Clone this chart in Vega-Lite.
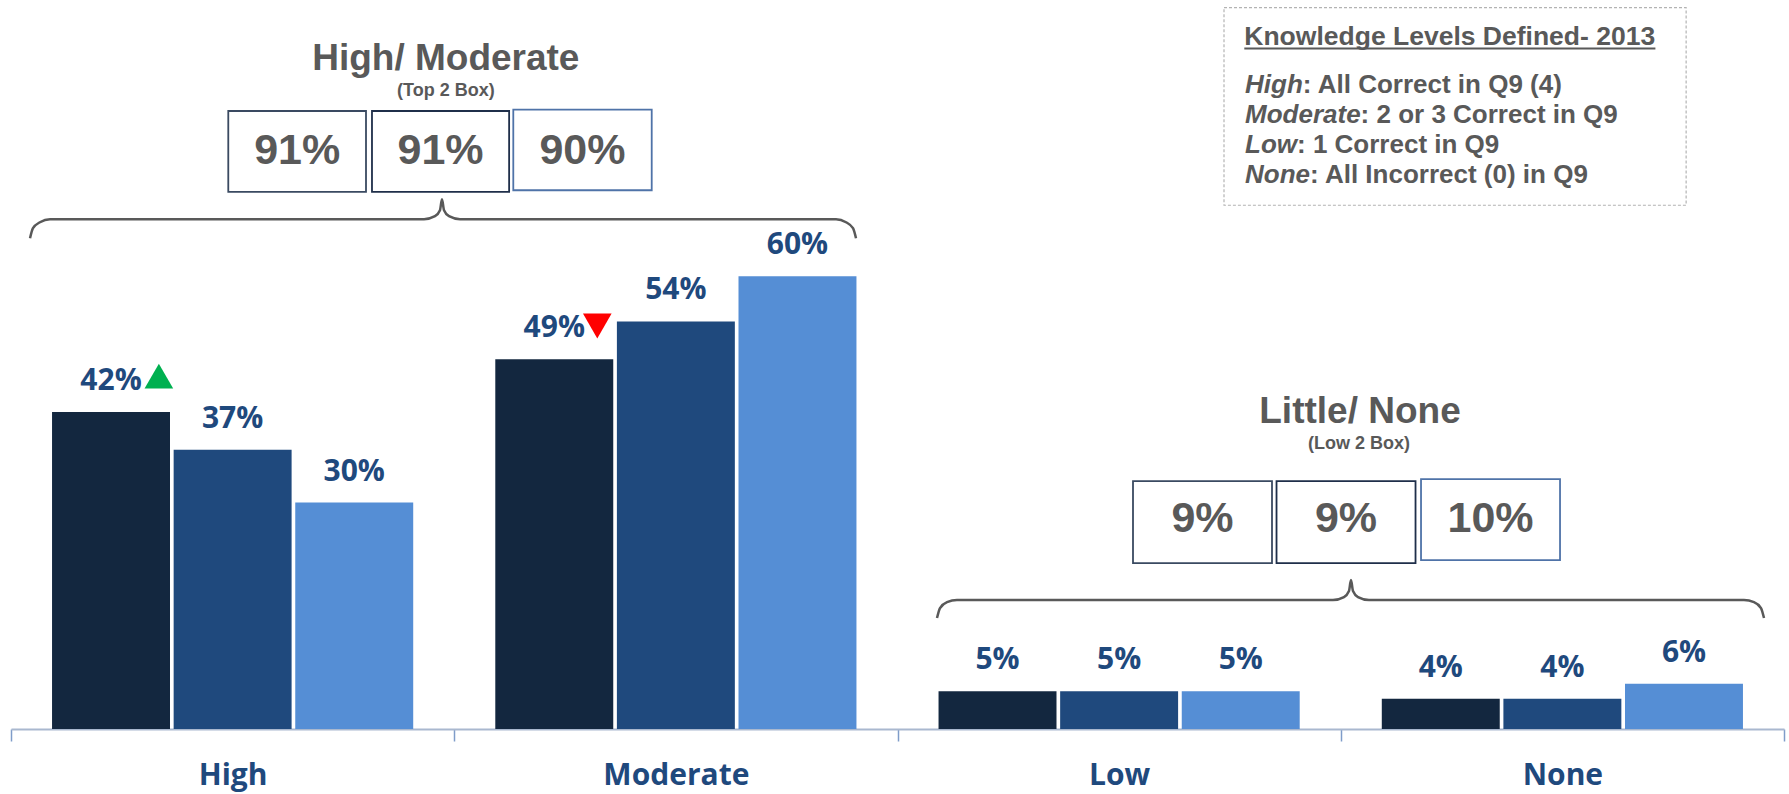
{
  "$schema": "https://vega.github.io/schema/vega-lite/v6.json",
  "width": 1773,
  "height": 729,
  "autosize": "none",
  "padding": {"left": 11, "top": 0, "right": 5, "bottom": 65},
  "background": "white",
  "config": {"view": {"stroke": null}},
  "datasets": {
    "bars": [
      {"level": "High", "series": "2013", "pct": 0.42},
      {"level": "High", "series": "2012", "pct": 0.37},
      {"level": "High", "series": "2011", "pct": 0.30},
      {"level": "Moderate", "series": "2013", "pct": 0.49},
      {"level": "Moderate", "series": "2012", "pct": 0.54},
      {"level": "Moderate", "series": "2011", "pct": 0.60},
      {"level": "Low", "series": "2013", "pct": 0.05},
      {"level": "Low", "series": "2012", "pct": 0.05},
      {"level": "Low", "series": "2011", "pct": 0.05},
      {"level": "None", "series": "2013", "pct": 0.04},
      {"level": "None", "series": "2012", "pct": 0.04},
      {"level": "None", "series": "2011", "pct": 0.06}
    ],
    "boxes": [
      {"group": "High/ Moderate", "series": "2013", "u1": 0.4902, "u2": 0.8009, "uc": 0.6457, "v1": 0.8189, "v2": 0.7117, "vt": 0.7483, "pct": 0.91},
      {"group": "High/ Moderate", "series": "2012", "u1": 0.8144, "u2": 1.1238, "uc": 0.969, "v1": 0.8189, "v2": 0.7117, "vt": 0.7483, "pct": 0.91},
      {"group": "High/ Moderate", "series": "2011", "u1": 1.1332, "u2": 1.4455, "uc": 1.2893, "v1": 0.8208, "v2": 0.7139, "vt": 0.7483, "pct": 0.90},
      {"group": "Little/ None", "series": "2013", "u1": 2.5313, "u2": 2.8449, "uc": 2.6881, "v1": 0.3285, "v2": 0.2199, "vt": 0.2613, "pct": 0.09},
      {"group": "Little/ None", "series": "2012", "u1": 2.8551, "u2": 3.1687, "uc": 3.0118, "v1": 0.3285, "v2": 0.2199, "vt": 0.2613, "pct": 0.09},
      {"group": "Little/ None", "series": "2011", "u1": 3.1811, "u2": 3.4947, "uc": 3.3379, "v1": 0.3311, "v2": 0.2238, "vt": 0.2613, "pct": 0.10}
    ],
    "groups": [
      {"group": "High/ Moderate", "sub": "(Top 2 Box)", "u": 0.981, "v": 0.8728, "us": 0.981, "vs": 0.8391},
      {"group": "Little/ None", "sub": "(Low 2 Box)", "u": 3.0434, "v": 0.4053, "us": 3.0412, "vs": 0.3709}
    ],
    "braces": [
      {"brace": "top", "u": 0.0429, "v": 0.6503},
      {"brace": "top", "u": 0.0496, "v": 0.6636},
      {"brace": "top", "u": 0.0654, "v": 0.6715},
      {"brace": "top", "u": 0.088, "v": 0.6755},
      {"brace": "top", "u": 0.9318, "v": 0.6755},
      {"brace": "top", "u": 0.9566, "v": 0.6795},
      {"brace": "top", "u": 0.9678, "v": 0.6874},
      {"brace": "top", "u": 0.9723, "v": 0.702},
      {"brace": "top", "u": 0.9769, "v": 0.6874},
      {"brace": "top", "u": 0.9881, "v": 0.6795},
      {"brace": "top", "u": 1.013, "v": 0.6755},
      {"brace": "top", "u": 1.8613, "v": 0.6755},
      {"brace": "top", "u": 1.8838, "v": 0.6715},
      {"brace": "top", "u": 1.8996, "v": 0.6636},
      {"brace": "top", "u": 1.9064, "v": 0.6503},
      {"brace": "low", "u": 2.0891, "v": 0.147},
      {"brace": "low", "u": 2.0959, "v": 0.1603},
      {"brace": "low", "u": 2.1117, "v": 0.1682},
      {"brace": "low", "u": 2.1342, "v": 0.1709},
      {"brace": "low", "u": 2.9825, "v": 0.1709},
      {"brace": "low", "u": 3.0073, "v": 0.1748},
      {"brace": "low", "u": 3.0186, "v": 0.1828},
      {"brace": "low", "u": 3.0231, "v": 0.1974},
      {"brace": "low", "u": 3.0276, "v": 0.1828},
      {"brace": "low", "u": 3.0389, "v": 0.1748},
      {"brace": "low", "u": 3.0637, "v": 0.1709},
      {"brace": "low", "u": 3.9097, "v": 0.1709},
      {"brace": "low", "u": 3.9323, "v": 0.1682},
      {"brace": "low", "u": 3.9481, "v": 0.1603},
      {"brace": "low", "u": 3.9549, "v": 0.147}
    ],
    "flags": [
      {"level": "High", "series": "2013", "dir": "up", "u": 0.3336, "v": 0.4675},
      {"level": "Moderate", "series": "2013", "dir": "down", "u": 1.3227, "v": 0.534}
    ],
    "defs": [
      {"term": "High", "rest": ": All Correct in Q9 (4)", "u": 2.784, "ur": 2.9144, "v": 0.8424},
      {"term": "Moderate", "rest": ": 2 or 3 Correct in Q9", "u": 2.784, "ur": 3.0448, "v": 0.8026},
      {"term": "Low", "rest": ": 1 Correct in Q9", "u": 2.784, "ur": 2.9013, "v": 0.7629},
      {"term": "None", "rest": ": All Incorrect (0) in Q9", "u": 2.784, "ur": 2.9306, "v": 0.7232}
    ],
    "defsHead": [
      {"title": "Knowledge Levels Defined- 2013", "u": 2.7824, "ue": 3.7099, "v": 0.9069, "vl": 0.9016, "bu1": 2.7366, "bu2": 3.7792, "bv1": 0.9559, "bv2": 0.694}
    ]
  },
  "resolve": {"scale": {"x": "independent"}},
  "layer": [
    {
      "data": {"name": "bars"},
      "encoding": {
        "x": {
          "field": "level", "type": "nominal", "sort": ["High", "Moderate", "Low", "None"],
          "scale": {"paddingInner": 0, "paddingOuter": 0},
          "axis": {
            "title": null, "labelAngle": 0, "grid": false,
            "domain": true, "domainColor": "#a9b8cf", "domainWidth": 2,
            "ticks": true, "tickBand": "extent", "tickColor": "#7f9cc9", "tickSize": 12, "tickWidth": 1.5,
            "labelFont": "Open Sans", "labelFontSize": 30, "labelFontWeight": "bold", "labelColor": "#1f497d",
            "labelPadding": 43, "labelBaseline": "alphabetic"
          }
        },
        "xOffset": {"field": "series", "type": "nominal", "sort": ["2013", "2012", "2011"], "scale": {"paddingInner": 0.03, "paddingOuter": 0.3375}},
        "y": {"field": "pct", "type": "quantitative", "scale": {"domain": [0, 0.966], "nice": false}, "axis": null}
      },
      "layer": [
        {
          "mark": {"type": "bar"},
          "encoding": {
            "color": {"field": "series", "type": "nominal", "scale": {"domain": ["2013", "2012", "2011"], "range": ["#13273f", "#1f497d", "#558ed5"]}, "legend": null}
          }
        },
        {
          "mark": {"type": "text", "font": "Open Sans", "fontWeight": "bold", "fontSize": 30, "color": "#1f497d", "baseline": "alphabetic", "dy": -22},
          "encoding": {"text": {"field": "pct", "type": "quantitative", "format": ".0%"}}
        }
      ]
    },
    {
      "layer": [
        {
          "data": {"name": "braces"},
          "mark": {"type": "line", "interpolate": "monotone", "color": "#595959", "strokeWidth": 2.5},
          "encoding": {
            "x": {"field": "u", "type": "quantitative", "scale": {"domain": [0, 4], "nice": false, "zero": false}, "axis": null},
            "y": {"field": "v", "type": "quantitative", "scale": {"domain": [0, 0.966], "nice": false}, "axis": null},
            "detail": {"field": "brace", "type": "nominal"}
          }
        },
        {
          "data": {"name": "boxes"},
          "mark": {"type": "rect", "fill": "white", "strokeWidth": 1.8},
          "encoding": {
            "x": {"field": "u1", "type": "quantitative", "scale": {"domain": [0, 4], "nice": false, "zero": false}, "axis": null},
            "x2": {"field": "u2"},
            "y": {"field": "v1", "type": "quantitative", "scale": {"domain": [0, 0.966], "nice": false}, "axis": null},
            "y2": {"field": "v2"},
            "stroke": {"field": "series", "type": "nominal", "scale": {"domain": ["2013", "2012", "2011"], "range": ["#3a4a61", "#1f2f4a", "#4f73a8"]}, "legend": null}
          }
        },
        {
          "data": {"name": "boxes"},
          "mark": {"type": "text", "font": "Liberation Sans", "fontWeight": "bold", "fontSize": 43, "color": "#595959", "baseline": "alphabetic", "align": "center"},
          "encoding": {
            "x": {"field": "uc", "type": "quantitative", "scale": {"domain": [0, 4], "nice": false, "zero": false}, "axis": null},
            "y": {"field": "vt", "type": "quantitative", "scale": {"domain": [0, 0.966], "nice": false}, "axis": null},
            "text": {"field": "pct", "type": "quantitative", "format": ".0%"}
          }
        },
        {
          "data": {"name": "groups"},
          "mark": {"type": "text", "font": "Liberation Sans", "fontWeight": "bold", "fontSize": 37, "color": "#595959", "baseline": "alphabetic", "align": "center"},
          "encoding": {
            "x": {"field": "u", "type": "quantitative", "scale": {"domain": [0, 4], "nice": false, "zero": false}, "axis": null},
            "y": {"field": "v", "type": "quantitative", "scale": {"domain": [0, 0.966], "nice": false}, "axis": null},
            "text": {"field": "group", "type": "nominal"}
          }
        },
        {
          "data": {"name": "groups"},
          "mark": {"type": "text", "font": "Liberation Sans", "fontWeight": "bold", "fontSize": 18, "color": "#595959", "baseline": "alphabetic", "align": "center"},
          "encoding": {
            "x": {"field": "us", "type": "quantitative", "scale": {"domain": [0, 4], "nice": false, "zero": false}, "axis": null},
            "y": {"field": "vs", "type": "quantitative", "scale": {"domain": [0, 0.966], "nice": false}, "axis": null},
            "text": {"field": "sub", "type": "nominal"}
          }
        },
        {
          "data": {"name": "flags"},
          "transform": [{"filter": "datum.dir == 'up'"}],
          "mark": {"type": "point", "shape": "triangle-up", "filled": true, "color": "#00b050", "opacity": 1, "size": 820},
          "encoding": {
            "x": {"field": "u", "type": "quantitative", "scale": {"domain": [0, 4], "nice": false, "zero": false}, "axis": null},
            "y": {"field": "v", "type": "quantitative", "scale": {"domain": [0, 0.966], "nice": false}, "axis": null}
          }
        },
        {
          "data": {"name": "flags"},
          "transform": [{"filter": "datum.dir == 'down'"}],
          "mark": {"type": "point", "shape": "triangle-down", "filled": true, "color": "#ff0000", "opacity": 1, "size": 820},
          "encoding": {
            "x": {"field": "u", "type": "quantitative", "scale": {"domain": [0, 4], "nice": false, "zero": false}, "axis": null},
            "y": {"field": "v", "type": "quantitative", "scale": {"domain": [0, 0.966], "nice": false}, "axis": null}
          }
        },
        {
          "data": {"name": "defsHead"},
          "mark": {"type": "rect", "fillOpacity": 0, "stroke": "#b3b3b3", "strokeWidth": 1.2, "strokeDash": [3, 2]},
          "encoding": {
            "x": {"field": "bu1", "type": "quantitative", "scale": {"domain": [0, 4], "nice": false, "zero": false}, "axis": null},
            "x2": {"field": "bu2"},
            "y": {"field": "bv1", "type": "quantitative", "scale": {"domain": [0, 0.966], "nice": false}, "axis": null},
            "y2": {"field": "bv2"}
          }
        },
        {
          "data": {"name": "defsHead"},
          "mark": {"type": "text", "font": "Liberation Sans", "fontWeight": "bold", "fontSize": 26.5, "color": "#595959", "baseline": "alphabetic", "align": "left"},
          "encoding": {
            "x": {"field": "u", "type": "quantitative", "scale": {"domain": [0, 4], "nice": false, "zero": false}, "axis": null},
            "y": {"field": "v", "type": "quantitative", "scale": {"domain": [0, 0.966], "nice": false}, "axis": null},
            "text": {"field": "title", "type": "nominal"}
          }
        },
        {
          "data": {"name": "defsHead"},
          "mark": {"type": "rule", "color": "#595959", "strokeWidth": 2},
          "encoding": {
            "x": {"field": "u", "type": "quantitative", "scale": {"domain": [0, 4], "nice": false, "zero": false}, "axis": null},
            "x2": {"field": "ue"},
            "y": {"field": "vl", "type": "quantitative", "scale": {"domain": [0, 0.966], "nice": false}, "axis": null}
          }
        },
        {
          "data": {"name": "defs"},
          "mark": {"type": "text", "font": "Liberation Sans", "fontWeight": "bold", "fontStyle": "italic", "fontSize": 26, "color": "#595959", "baseline": "alphabetic", "align": "left"},
          "encoding": {
            "x": {"field": "u", "type": "quantitative", "scale": {"domain": [0, 4], "nice": false, "zero": false}, "axis": null},
            "y": {"field": "v", "type": "quantitative", "scale": {"domain": [0, 0.966], "nice": false}, "axis": null},
            "text": {"field": "term", "type": "nominal"}
          }
        },
        {
          "data": {"name": "defs"},
          "mark": {"type": "text", "font": "Liberation Sans", "fontWeight": "bold", "fontSize": 26, "color": "#595959", "baseline": "alphabetic", "align": "left"},
          "encoding": {
            "x": {"field": "ur", "type": "quantitative", "scale": {"domain": [0, 4], "nice": false, "zero": false}, "axis": null},
            "y": {"field": "v", "type": "quantitative", "scale": {"domain": [0, 0.966], "nice": false}, "axis": null},
            "text": {"field": "rest", "type": "nominal"}
          }
        }
      ]
    }
  ]
}
